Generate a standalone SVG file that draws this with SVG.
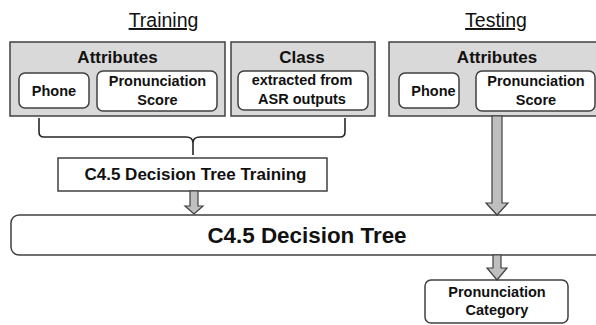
<svg xmlns="http://www.w3.org/2000/svg" width="596" height="325" viewBox="0 0 596 325">
<style>
text{font-family:"Liberation Sans",Arial,sans-serif;fill:#111;text-anchor:middle}
.b{font-weight:bold}
.title{font-size:19.5px;text-decoration:underline}
.grp{fill:#d9d9d9;stroke:#404040;stroke-width:1.5}
.w{fill:#fff;stroke:#404040;stroke-width:1.5}
.lbl{font-size:17px;font-weight:bold}
.in{font-size:14.5px;font-weight:bold}
.arr{fill:#bfbfbf;stroke:#404040;stroke-width:1.2;stroke-linejoin:miter}
.brace{fill:none;stroke:#262626;stroke-width:1.6}
</style>
<rect width="596" height="325" fill="#fff"/>
<text x="163.5" y="27" class="title">Training</text>
<text x="496" y="27" class="title">Testing</text>
<g id="train-attributes">
<rect class="grp" x="10" y="42" width="215" height="74"/>
<text x="117.5" y="63" class="lbl">Attributes</text>
</g>
<g id="train-phone">
<rect class="w" x="19" y="73" width="70" height="35" rx="6"/>
<text x="54" y="96" class="in">Phone</text>
</g>
<g id="train-score">
<rect class="w" x="97" y="71" width="120" height="40" rx="6"/>
<text x="157.5" y="86" class="in">Pronunciation</text>
<text x="157.5" y="105" class="in">Score</text>
</g>
<g id="class">
<rect class="grp" x="231" y="42" width="144" height="74"/>
<text x="302" y="63" class="lbl">Class</text>
</g>
<g id="class-asr">
<rect class="w" x="238" y="71" width="130" height="39" rx="6"/>
<text x="302" y="85" class="in">extracted from</text>
<text x="302" y="104" class="in">ASR outputs</text>
</g>
<g id="test-attributes">
<rect class="grp" x="389" y="42" width="215" height="74"/>
<text x="497" y="63" class="lbl">Attributes</text>
</g>
<g id="test-phone">
<rect class="w" x="399" y="73" width="60" height="35" rx="6"/>
<text x="433.5" y="96" class="in">Phone</text>
</g>
<g id="test-score">
<rect class="w" x="476" y="71" width="119" height="40" rx="6"/>
<text x="536" y="86" class="in">Pronunciation</text>
<text x="536" y="105" class="in">Score</text>
</g>
<g id="training">
<rect x="58" y="158" width="269" height="33" fill="#fff" stroke="#404040" stroke-width="1.5"/>
<text x="195.5" y="180" style="font-size:17px;font-weight:bold">C4.5 Decision Tree Training</text>
</g>
<g id="tree">
<rect class="w" x="11" y="215" width="600" height="40" rx="8"/>
<text x="307" y="243" style="font-size:22.4px;font-weight:bold">C4.5 Decision Tree</text>
</g>
<g id="category">
<rect class="w" x="425" y="280" width="143" height="43" rx="6"/>
<text x="497" y="297" class="in">Pronunciation</text>
<text x="497" y="315" class="in">Category</text>
</g>
<g id="connectors">
<path class="brace" d="M39 118 V132 Q39 137 44 137 H186 Q193 137 193 143 V155 M193 143 Q193 137 200 137 H340 Q345 137 345 132 V118"/>
<path class="arr" d="M190 191 H198 V206 H203 L194 214 L185 206 H190 Z"/>
<path class="arr" d="M492 116 H502 V203 H508 L497 215 L486 203 H492 Z"/>
<path class="arr" d="M493 255 H501 V268 H507 L497 280 L487 268 H493 Z"/>
</g>
</svg>
